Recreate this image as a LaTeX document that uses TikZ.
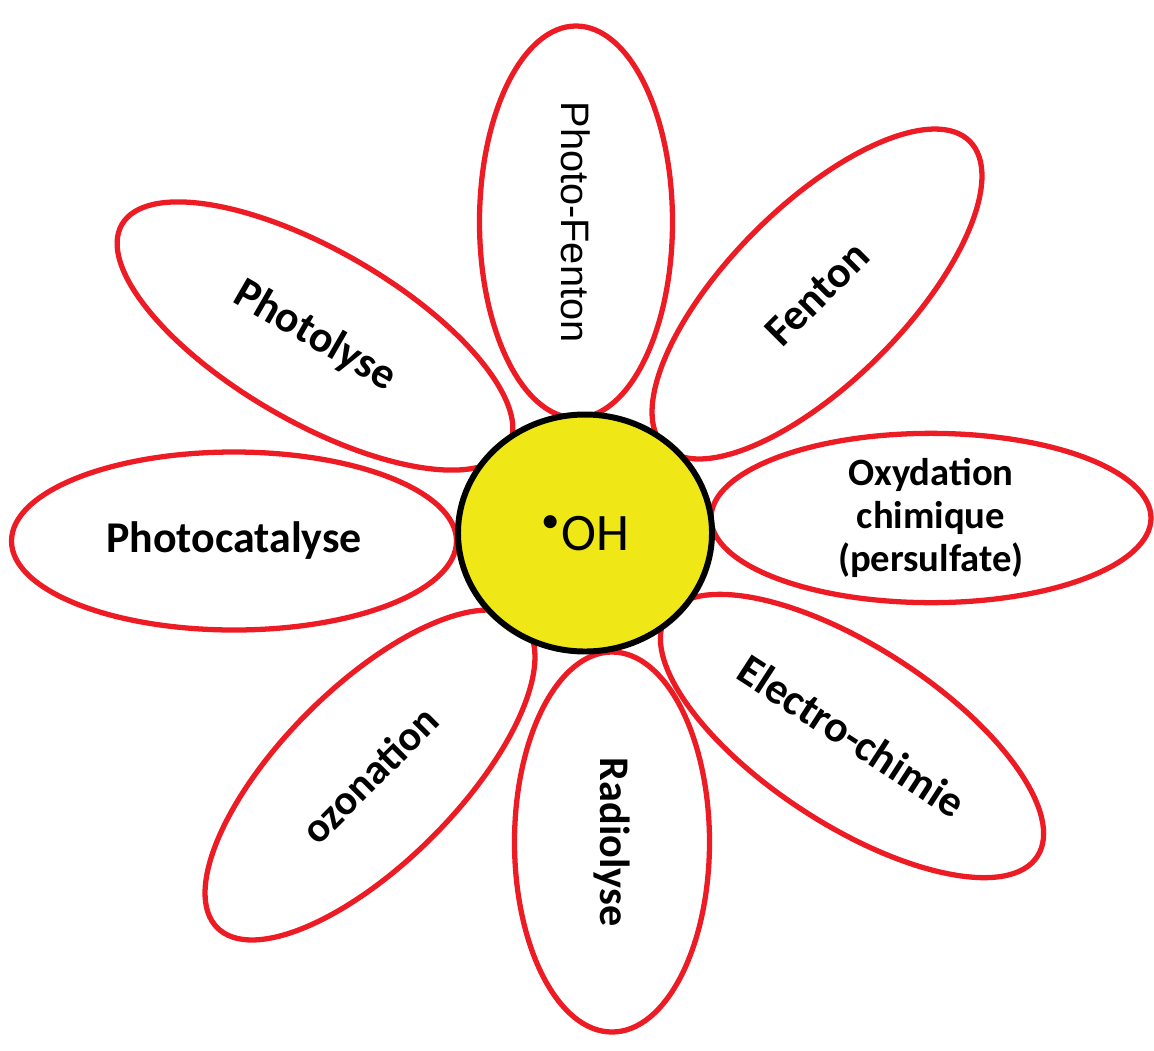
\documentclass[tikz,border=0pt]{standalone}
\usepackage{fontspec}
\setmainfont{Carlito}
\newfontfamily\arialfont{Liberation Sans}
\usetikzlibrary{shapes.geometric}
\definecolor{petalred}{RGB}{237,28,36}
\definecolor{heartyellow}{RGB}{240,232,22}
\begin{document}
\begin{tikzpicture}
		[petal/.style={ellipse, draw=petalred, line width=1.5pt, inner sep=0pt, align=center, font=\bfseries\fontsize{12.5}{14}\selectfont},
		 heart/.style={ellipse, draw=black, line width=1.7pt, fill=heartyellow, inner sep=0pt, minimum width=2.54cm, minimum height=2.37cm, font=\fontsize{15}{18}\selectfont}]
		\useasboundingbox (0,0) rectangle (11.54,-10.50);
		\node[petal, minimum width=3.92cm, minimum height=1.93cm, rotate=-90, font=\arialfont\fontsize{11.3}{14}\selectfont] (photofenton) at (5.76,-2.22) {Photo-Fenton};
		\node[petal, minimum width=4.32cm, minimum height=1.76cm, rotate=45] (fenton) at (8.17,-2.94) {Fenton};
		\node[petal, minimum width=4.40cm, minimum height=1.66cm, font=\bfseries\fontsize{11}{12.3}\selectfont] (oxydation) at (9.31,-5.18) {Oxydation\\chimique\\(persulfate)};
		\node[petal, minimum width=4.42cm, minimum height=1.78cm, rotate=-33] (electro) at (8.52,-7.36) {Electro-chimie};
		\node[petal, minimum width=3.80cm, minimum height=1.95cm, rotate=-90, font=\bfseries\fontsize{12}{14}\selectfont] (radiolyse) at (6.12,-8.42) {Radiolyse};
		\node[petal, minimum width=4.32cm, minimum height=1.76cm, rotate=45, font=\bfseries\fontsize{12}{14}\selectfont] (ozonation) at (3.70,-7.75) {ozonation};
		\node[petal, minimum width=4.45cm, minimum height=1.78cm] (photocatalyse) at (2.34,-5.41) {Photocatalyse};
		\node[petal, minimum width=4.46cm, minimum height=1.72cm, rotate=-30] (photolyse) at (3.15,-3.36) {Photolyse};
		
		\node[heart] (oh) at (5.85,-5.33) {\textsuperscript{\textbullet}OH};
		\end{tikzpicture}
\end{document}
